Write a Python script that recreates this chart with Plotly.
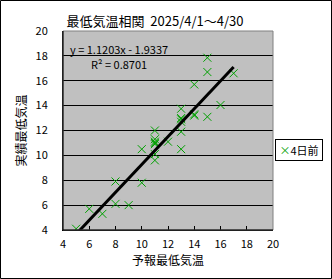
import plotly.graph_objects as go

# Forecast (x) vs actual (y) minimum temperatures, 4 days ahead, April 2025
forecast = [5, 6, 7, 8, 8, 9, 10, 10, 11, 11, 11, 11, 11, 11, 11, 12,
            13, 13, 13, 13, 13, 13, 14, 14, 14, 15, 15, 15, 16, 17]
actual = [4.1, 5.7, 5.3, 6.1, 7.9, 6.0, 7.8, 10.5, 12.0, 11.3, 11.1, 11.0, 10.9, 10.1, 9.6, 11.1,
          10.5, 11.9, 12.7, 12.9, 13.0, 13.75, 13.3, 13.2, 15.7, 13.1, 16.7, 17.85, 14.05, 16.6]
series_name = "4日前"
slope = 1.1203
intercept = -1.9337
r2 = 0.8701
x_ticks = [4, 6, 8, 10, 12, 14, 16, 18, 20]
y_ticks = [4, 6, 8, 10, 12, 14, 16, 18, 20]

FONT = "Noto Sans CJK JP"
GREEN = "#00A000"

x_lo, x_hi = min(forecast), max(forecast)
fit_x = [x_lo, x_hi]
fit_y = [slope * v + intercept for v in fit_x]

fig = go.Figure()
fig.add_trace(go.Scatter(
    x=forecast, y=actual, mode="markers", name=series_name,
    marker=dict(symbol="x-thin", size=8, line=dict(color=GREEN, width=1), color=GREEN),
    showlegend=False, cliponaxis=True,
))
fig.add_trace(go.Scatter(
    x=fit_x, y=fit_y, mode="lines", line=dict(color="black", width=3),
    showlegend=False, hoverinfo="skip",
))

W, H = 332, 279
L, R, T, B = 63, 59, 31, 49
pw, ph = W - L - R, H - T - B

def px_x(p):
    return (p - L) / pw

def px_y(p):
    return (H - B - p) / ph

fig.update_layout(
    width=W, height=H,
    margin=dict(l=L, r=R, t=T, b=B, pad=0),
    paper_bgcolor="white", plot_bgcolor="#C0C0C0",
    font=dict(family=FONT, size=11, color="black"),
    title=dict(text="最低気温相関  2025/4/1～4/30", x=155 / W, y=1 - 21 / H,
               xanchor="center", yanchor="middle", font=dict(size=13, family=FONT)),
    xaxis=dict(range=[4, 20], tickvals=x_ticks, ticks="inside", ticklen=4, tickcolor="black",
               showgrid=False, zeroline=False, showline=True, linecolor="black", linewidth=1,
               ticklabelstandoff=4,
               title=dict(text="予報最低気温", standoff=4, font=dict(size=12))),
    yaxis=dict(range=[4, 20], tickvals=y_ticks, ticks="", showgrid=True, gridcolor="black",
               gridwidth=1, zeroline=False, showline=True, linecolor="black", linewidth=1,
               ticklabelstandoff=12,
               title=dict(text="実績最低気温", standoff=6, font=dict(size=12))),
    showlegend=False,
)

fig.add_shape(type="rect", xref="paper", yref="paper", x0=0, x1=1, y0=0, y1=1,
              line=dict(color="#808080", width=1), layer="above")
fig.add_shape(type="line", xref="paper", yref="paper", x0=0, x1=0, y0=0, y1=1,
              line=dict(color="black", width=1), layer="above")
fig.add_shape(type="line", xref="paper", yref="paper", x0=0, x1=1, y0=0, y1=0,
              line=dict(color="black", width=1), layer="above")
# chart outer border
fig.add_shape(type="rect", xref="paper", yref="paper",
              x0=px_x(0.5), x1=px_x(W - 0.5), y0=px_y(H - 0.5), y1=px_y(0.5),
              line=dict(color="black", width=1), layer="above")

fig.add_annotation(text=f"y = {slope:.4f}x - {abs(intercept):.4f}", xref="paper", yref="paper",
                   x=px_x(68), y=px_y(49), xanchor="left", yanchor="middle", showarrow=False,
                   font=dict(size=11))
fig.add_annotation(text=f"R² = {r2:.4f}", xref="paper", yref="paper",
                   x=px_x(119), y=px_y(64), xanchor="center", yanchor="middle", showarrow=False,
                   font=dict(size=11))
# legend box
fig.add_annotation(text=f"<span style='color:{GREEN}'>×</span>{series_name}", xref="paper", yref="paper",
                   x=px_x(275), y=px_y(139), xanchor="left", yanchor="top", showarrow=False,
                   bordercolor="black", borderwidth=1, borderpad=2, bgcolor="white",
                   font=dict(size=11), width=42, align="center")

fig.write_html("out.html")
